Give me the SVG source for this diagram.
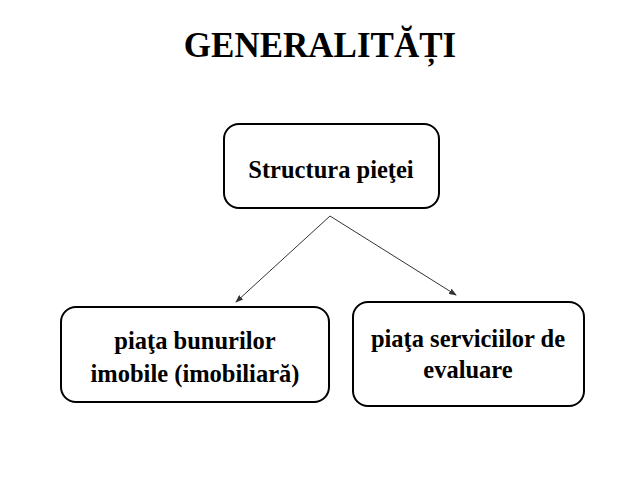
<svg xmlns="http://www.w3.org/2000/svg" width="640" height="480" viewBox="0 0 640 480">
<style>
.box{fill:#fff;stroke:#000;stroke-width:2}
.t{font-family:"Liberation Serif","Times New Roman",serif;font-weight:bold;fill:#000;text-anchor:middle}
.lbl{font-size:24.5px}
.c{stroke:#333;stroke-width:1;fill:none;marker-end:url(#ah)}
</style>
<defs>
<marker id="ah" markerWidth="8" markerHeight="6" refX="7" refY="3" orient="auto" markerUnits="userSpaceOnUse">
<path d="M0,0 L8,3 L0,6 Z" fill="#333"/>
</marker>
</defs>
<rect width="640" height="480" fill="#fff"/>
<text class="t" x="320" y="57" font-size="35">GENERALITĂȚI</text>
<g id="connectors">
<line class="c" x1="330" y1="216" x2="236" y2="302"/>
<line class="c" x1="330" y1="216" x2="456" y2="295"/>
</g>
<g id="n-structura">
<rect class="box" x="224" y="124" width="215" height="84" rx="15"/>
<text class="t lbl" x="331" y="178">Structura pieţei</text>
</g>
<g id="n-bunuri">
<rect class="box" x="61" y="307" width="268" height="95" rx="15"/>
<text class="t lbl" x="195" y="349">piaţa bunurilor</text>
<text class="t lbl" x="195" y="382">imobile (imobiliară)</text>
</g>
<g id="n-servicii">
<rect class="box" x="353" y="302" width="231" height="104" rx="15"/>
<text class="t lbl" x="468" y="347">piaţa serviciilor de</text>
<text class="t lbl" x="468" y="378">evaluare</text>
</g>
</svg>
